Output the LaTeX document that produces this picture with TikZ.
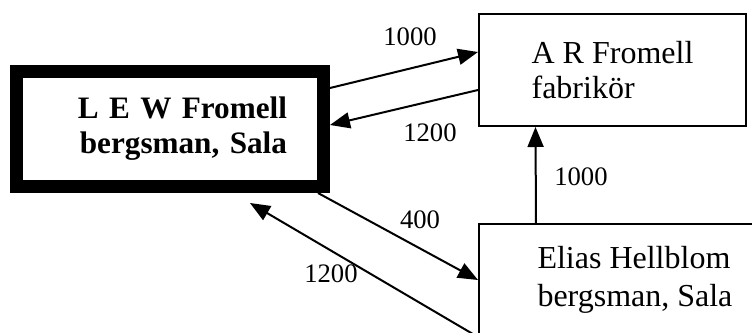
\documentclass[tikz,border=0pt]{standalone}
\usepackage{fontspec}
\setmainfont{Liberation Serif}
\usetikzlibrary{arrows.meta}

\begin{document}
\begin{tikzpicture}[x=0.375pt,y=-0.375pt,
  box/.style={draw, rectangle, line width=0.75pt, inner sep=0pt, align=left,
    font=\fontsize{12}{13.1}\selectfont},
  flow/.style={-{Triangle[length=7.5pt,width=6pt]}, line width=0.75pt},
  num/.style={inner sep=0pt, font=\fontsize{10}{12}\selectfont}]
\def\px{0.375pt}
\useasboundingbox (0,0) rectangle (752,333);
\clip (0,0) rectangle (752,333);
% people
\node[box, line width=4.875pt, minimum width=307*\px, minimum height=115*\px,
  text width=234*\px, align=right, font=\fontsize{11.7}{13.1}\selectfont\bfseries]
  (lew) at (170,129) {L E W Fromell\\bergsman, Sala};
\node[box, minimum width=267*\px, minimum height=112*\px] (ar) at (612.5,70) {A R Fromell\\fabrikör};
\node[box, minimum width=312*\px, minimum height=112*\px,
  font=\fontsize{12}{14.25}\selectfont] (eh) at (635,280) {Elias Hellblom\\bergsman, Sala};
% loans
\draw[flow] ([yshift=41*\px]lew.east) -- ([yshift=18*\px]ar.west);
\draw[flow] ([yshift=-20*\px]ar.west) -- ([yshift=4*\px]lew.east);
\draw[flow] ([xshift=-99*\px]eh.north) -- ([xshift=-77*\px]ar.south);
\draw[flow] ([xshift=148*\px]lew.south) -- (eh.west);
\draw[flow] (eh.south west) -- ([xshift=80*\px,yshift=-10*\px]lew.south);
% sums
\node[num] (s1) at (410,37) {1000};
\node[num] (s2) at (430,133) {1200};
\node[num] (s3) at (581,177) {1000};
\node[num] (s4) at (420,220) {400};
\node[num] (s5) at (331,274) {1200};
\end{tikzpicture}
\end{document}
